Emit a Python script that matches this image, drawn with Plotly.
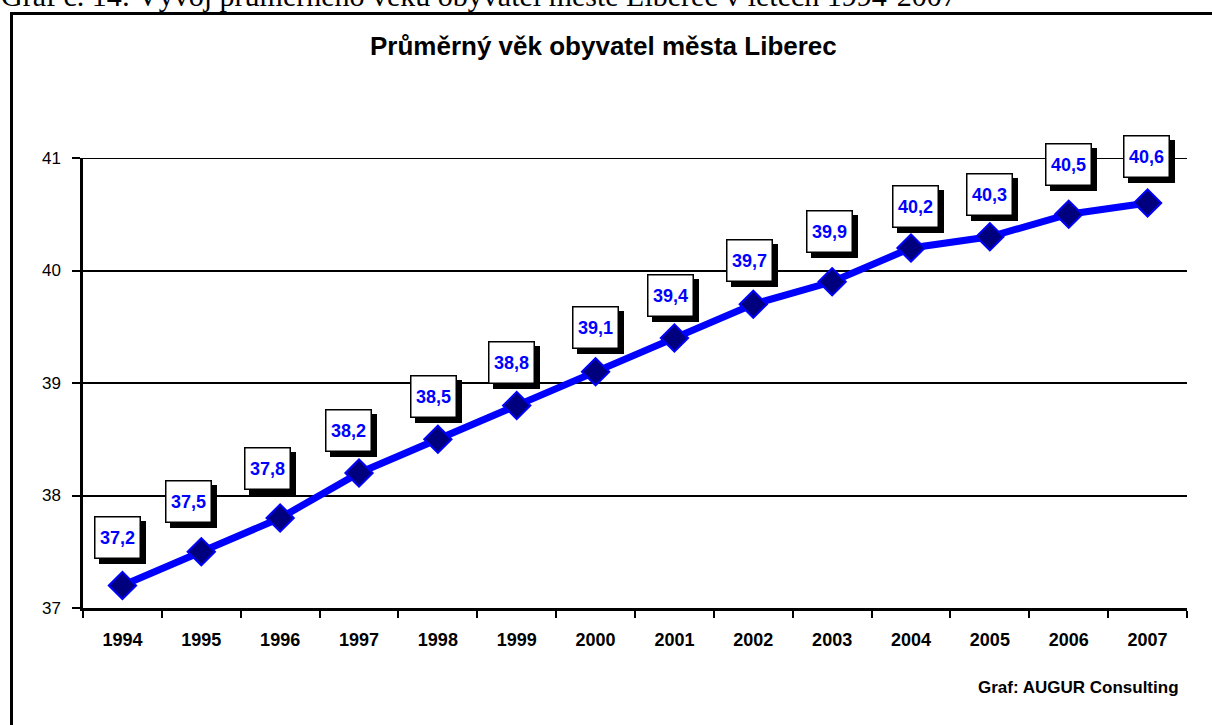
import plotly.graph_objects as go

years = ["1994", "1995", "1996", "1997", "1998", "1999", "2000", "2001", "2002", "2003", "2004", "2005", "2006", "2007"]
avg_age = [37.2, 37.5, 37.8, 38.2, 38.5, 38.8, 39.1, 39.4, 39.7, 39.9, 40.2, 40.3, 40.5, 40.6]
y_ticks = [37, 38, 39, 40, 41]

title_text = "Průměrný věk obyvatel města Liberec"
caption_text = "Graf č. 14: Vývoj průměrného věku obyvatel městě Liberec v letech 1994-2007"
source_text = "Graf: AUGUR Consulting"

# label box placement tweaks (pixels, relative to the point) - style only
label_dx = [-5, -13, -13, -11, -4, -5, 0, -4, -4, -3, 4, 0, 0, -1]
label_dy = [48, 50, 50, 43, 43, 43, 44, 43, 44, 50, 42, 42, 50, 47]

W, H = 1212, 725
L, R, T, B = 83, 25, 158, 117
pw, ph = W - L - R, H - T - B

def px(x):
    return (x - L) / pw

def py(y):
    return (H - B - y) / ph

FONT = "Liberation Sans, Arial, sans-serif"

fig = go.Figure()
fig.add_trace(go.Scatter(
    x=years, y=avg_age, mode="lines+markers",
    line=dict(color="#0000FF", width=7),
    marker=dict(symbol="diamond", size=21, color="#00007F",
                line=dict(color="#0000FF", width=2)),
    hoverinfo="x+y", showlegend=False,
))

annotations = []
for i, v in enumerate(avg_age):
    label = f"{v:.1f}".replace(".", ",")
    dx, dy = label_dx[i], label_dy[i]
    # drop shadow (blank box of the same fixed size)
    annotations.append(dict(
        x=i, y=v, xref="x", yref="y", text=" ", showarrow=False,
        xshift=dx + 5, yshift=dy - 5, width=40, height=36, borderpad=2,
        bgcolor="black", bordercolor="black", borderwidth=1.5,
        font=dict(family=FONT, size=18, color="black"),
    ))
    annotations.append(dict(
        x=i, y=v, xref="x", yref="y", text=f"<b>{label}</b>", showarrow=False,
        xshift=dx, yshift=dy, width=40, height=36, borderpad=2,
        bgcolor="white", bordercolor="black", borderwidth=1.5,
        font=dict(family=FONT, size=18, color="#0000FF"),
    ))

annotations.append(dict(
    x=px(603), y=py(46), xref="paper", yref="paper", text=f"<b>{title_text}</b>",
    showarrow=False, xanchor="center", yanchor="middle",
    font=dict(family=FONT, size=26, color="black"),
))
annotations.append(dict(
    x=px(1181), y=py(687), xref="paper", yref="paper", text=f"<b>{source_text}</b>",
    showarrow=False, xanchor="right", yanchor="middle",
    font=dict(family=FONT, size=17, color="black"),
))
annotations.append(dict(
    x=px(-1), y=py(14), xref="paper", yref="paper", text=caption_text,
    showarrow=False, xanchor="left", yanchor="bottom",
    font=dict(family="Liberation Serif, Times New Roman, serif", size=30, color="black"),
))

shapes = [
    dict(type="rect", xref="paper", yref="paper",
         x0=px(11.5), x1=px(1240), y0=py(760), y1=py(13.5),
         line=dict(color="black", width=3), fillcolor="rgba(0,0,0,0)", layer="below"),
    # top gridline (at the range edge, drawn explicitly)
    dict(type="line", xref="paper", yref="y", x0=0, x1=1,
         y0=y_ticks[-1], y1=y_ticks[-1], line=dict(color="black", width=2), layer="below"),
]

fig.update_layout(
    width=W, height=H,
    margin=dict(l=L, r=R, t=T, b=B, pad=0),
    paper_bgcolor="white", plot_bgcolor="white",
    annotations=annotations, shapes=shapes,
    xaxis=dict(
        type="category", range=[-0.5, 13.5], tickson="boundaries",
        ticks="outside", ticklen=7, tickwidth=2, tickcolor="black",
        showline=True, linecolor="black", linewidth=2.5,
        showgrid=False, zeroline=False,
        tickfont=dict(family=FONT, size=18, color="black", weight="bold"),
        ticklabelstandoff=14,
    ),
    yaxis=dict(
        range=[37, 41], tickvals=y_ticks, ticktext=[str(t) for t in y_ticks],
        ticks="outside", ticklen=8, tickwidth=2, tickcolor="black",
        showline=True, linecolor="black", linewidth=2.5,
        showgrid=True, gridcolor="black", gridwidth=2, zeroline=False,
        tickfont=dict(family=FONT, size=17, color="black"),
        ticklabelstandoff=8,
    ),
)

fig.write_html("out.html", config={"displayModeBar": False},
               post_script="document.body.style.margin='0px';")
